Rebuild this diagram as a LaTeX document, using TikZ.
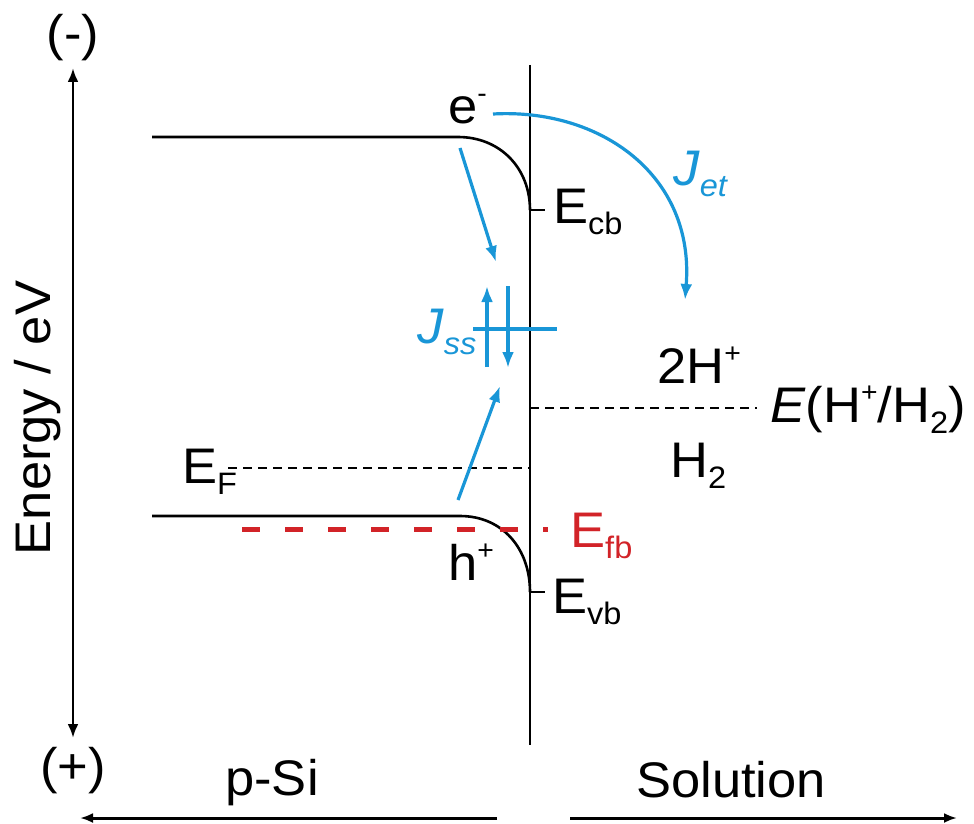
\documentclass[tikz,border=0pt]{standalone}
\usepackage{fontspec}
\setmainfont{Liberation Sans}[FakeStretch=1.05]
\usetikzlibrary{arrows.meta}
\definecolor{jblue}{RGB}{25,150,215}
\definecolor{fbred}{RGB}{210,35,40}
\newcommand{\sbs}[1]{\raisebox{-0.22em}{\fontsize{31}{31}\selectfont #1}}
\newcommand{\sps}[1]{\raisebox{0.42em}{\fontsize{27}{27}\selectfont #1}}
\tikzset{
  lbl/.style={font=\fontsize{50}{58}\selectfont, inner sep=0pt, anchor=base west},
  blk/.style={line width=2.6pt, black},
  blkdash/.style={line width=2.6pt, black, dash pattern=on 9pt off 6pt},
  reddash/.style={line width=5pt, fbred, dash pattern=on 18pt off 25pt},
  bluel/.style={line width=3.2pt, jblue},
  bluearr/.style={line width=3.2pt, jblue, -{Latex[length=16pt,width=12pt]}},
  axarr/.style={line width=2.8pt, black, {Latex[length=14pt,width=11pt]}-{Latex[length=14pt,width=11pt]}},
  botarr/.style={line width=3pt, black, -{Latex[length=13pt,width=10pt]}}
}
\begin{document}
\begin{tikzpicture}[x=1pt,y=-1pt]
\useasboundingbox (0,0) rectangle (974,824);
% coordinates
\coordinate (axtop) at (73,68);
\coordinate (axbot) at (73,738);
\coordinate (iftop) at (530,65);
\coordinate (ifbot) at (530,745);
\coordinate (cbL) at (152,137);
\coordinate (cbK) at (458,137);
\coordinate (cbI) at (530,210);
\coordinate (cbT) at (545,210);
\coordinate (vbL) at (152,516);
\coordinate (vbK) at (460,516);
\coordinate (vbI) at (530,592);
\coordinate (vbT) at (545,592);
\coordinate (efL) at (228,468);
\coordinate (efR) at (530,468);
\coordinate (fbL) at (242,529);
\coordinate (fbR) at (548,529);
\coordinate (hhL) at (530,408);
\coordinate (hhR) at (757,408);
\coordinate (lbS) at (497,818);
\coordinate (lbE) at (80,818);
\coordinate (rbS) at (570,818);
\coordinate (rbE) at (957,818);
\coordinate (a1S) at (460,148);
\coordinate (a1E) at (496,262);
\coordinate (upS) at (487,367);
\coordinate (upE) at (487,286);
\coordinate (dnS) at (508,286);
\coordinate (dnE) at (508,368);
\coordinate (ssL) at (473,329);
\coordinate (ssR) at (557,329);
\coordinate (a2S) at (458,500);
\coordinate (a2E) at (500,386);
\coordinate (etS) at (493,114);
\coordinate (etE) at (685,300);

% lines
\draw[axarr] (axbot) -- (axtop);
\draw[blk] (iftop) -- (ifbot);
\draw[blk] (cbL) -- (cbK) .. controls (500,137) and (530,168) .. (cbI);
\draw[blk] (cbI) -- (cbT);
\draw[blk] (vbL) -- (vbK) .. controls (502,516) and (530,548) .. (vbI);
\draw[blk] (vbI) -- (vbT);
\draw[blkdash] (efL) -- (efR);
\draw[blkdash] (hhL) -- (hhR);
\draw[reddash] (fbL) -- (fbR);
\draw[botarr] (lbS) -- (lbE);
\draw[botarr] (rbS) -- (rbE);

% blue arrows
\draw[bluearr] (a1S) -- (a1E);
\draw[bluearr] (upS) -- (upE);
\draw[bluearr] (dnS) -- (dnE);
\draw[bluel] (ssL) -- (ssR);
\draw[bluearr] (a2S) -- (a2E);
\draw[bluearr] (etS) .. controls (600,108) and (695,175) .. (etE);

% labels
\node[lbl, anchor=center] (minus) at (73,38) {(-)};
\node[lbl, anchor=center] (plus) at (73,771) {(+)};
\node[lbl, anchor=base, rotate=90] (energy) at (50,418) {Energy / eV};
\node[lbl, anchor=base] (psi) at (272,795) {p-Si};
\node[lbl] (sol) at (636,797) {Solution};
\node[lbl] (elec) at (448,124) {e\sps{-}};
\node[lbl] (hole) at (448,580) {h\sps{+}};
\node[lbl] (ecb) at (553,223) {E\sbs{cb}};
\node[lbl] (evb) at (552,613) {E\sbs{vb}};
\node[lbl, text=fbred] (efb) at (570,547) {E\sbs{fb}};
\node[lbl] (ef) at (182,483) {E\sbs{F}};
\node[lbl] (twoh) at (657,383) {2H\sps{+}};
\node[lbl] (htwo) at (670,477) {H\sbs{2}};
\node[lbl] (ehh) at (770,422) {\textit{E}(H\sps{+}/H\sbs{2})};
\node[lbl, text=jblue] (jet) at (673,185) {\textit{J}\sbs{\itshape et}};
\node[lbl, text=jblue] (jss) at (417,343) {\textit{J}\sbs{\itshape ss}};
\end{tikzpicture}
\end{document}
